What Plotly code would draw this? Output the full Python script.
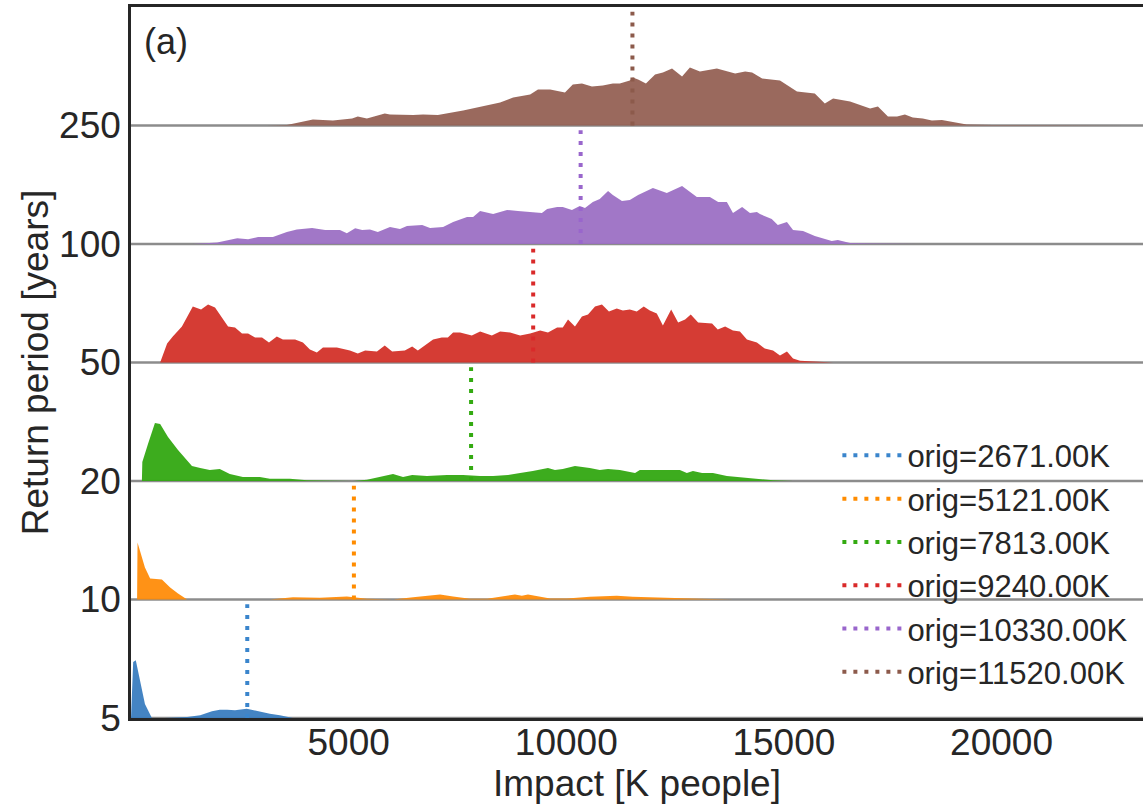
import plotly.graph_objects as go

# ---------------- data ----------------
return_periods = ["5", "10", "20", "50", "100", "250"]
orig_values = [2671, 5121, 7813, 9240, 10330, 11520]
x_ticks = [5000, 10000, 15000, 20000]
x_tick_labels = ["5000", "10000", "15000", "20000"]
colors = ["#3a7dc0", "#ff8c0a", "#33a812", "#d33129", "#9c70c4", "#956154"]
line_colors = ["#3a85cc", "#ff8c00", "#33aa11", "#d92a2a", "#9966cc", "#8c5a4b"]

# impact values [K people] and relative density for each return period
rp5_x = [0, 50, 110, 210, 320, 480, 780, 1290, 1590, 1860, 2040, 2210, 2390, 2660, 2890, 3190, 3420, 3720]
rp5_d = [0, 56, 57.7, 37.7, 14, 0, 0, 1, 2.7, 6.7, 8.3, 8.3, 7.7, 9.3, 7, 4.3, 2.7, 0]

rp10_x = [140, 150, 320, 440, 710, 900, 1080, 1290, 3190, 3720, 4340, 4960, 5420, 6020, 6480, 7100,
          7400, 7790, 8180, 8550, 8820, 8980, 9120, 9630, 10020, 10540, 11160, 11530, 12150, 12680,
          13070, 13830]
rp10_d = [0, 57, 32, 21, 20, 12, 6, 0, 0, 2.3, 1.7, 3, 0.7, 0, 2.3, 5,
          3, 0.7, 0.7, 3, 5, 3.7, 5, 1, 1, 2.7, 3.7, 2.7, 1.7, 1,
          0.7, 0]

rp20_x = [250, 260, 390, 550, 670, 850, 1080, 1400, 1590, 1810, 2040, 2270, 2570, 2960, 3190, 3650,
          4040, 5100, 5420, 5720, 6020, 6250, 6460, 6800, 7260, 7630, 8020, 8320, 8660, 8940, 9100,
          9230, 9580, 9740, 9920, 10200, 10540, 10770, 10960, 11230, 11580, 11690, 11990, 12610,
          12770, 12910, 13120, 13370, 13690, 14150, 14450, 14750, 15210]
rp20_d = [0, 19, 37, 58, 57, 44, 31, 15, 13, 11, 12, 7, 4, 4, 2.3, 2.3,
          0.7, 0, 1.3, 4, 7, 4, 6, 5, 6, 6, 5, 5, 6, 8, 9,
          10, 13, 11, 12, 15, 13, 11, 12, 11, 8, 11, 11, 11,
          8, 10, 8, 8, 5, 3, 1.7, 0.7, 0]

rp50_x = [670, 830, 960, 1170, 1420, 1610, 1770, 1930, 2230, 2390, 2550, 2690, 2850, 3010, 3170,
          3350, 3490, 3770, 3950, 4110, 4270, 4410, 4730, 5030, 5210, 5380, 5650, 5830, 6000, 6290,
          6460, 6590, 6940, 7140, 7280, 7400, 7560, 7830, 8020, 8290, 8480, 8710, 8940, 9170, 9400,
          9580, 9790, 9920, 10040, 10200, 10360, 10500, 10660, 10820, 10980, 11160, 11300, 11460,
          11620, 11780, 11920, 12080, 12220, 12410, 12570, 12730, 12860, 13030, 13350, 13480, 13650,
          13830, 13990, 14150, 14380, 14560, 14750, 14910, 15070, 15210, 15370, 15830, 16130]
rp50_d = [0, 19, 26, 36, 56, 53, 58, 55, 36, 35, 29, 29, 25, 25, 20,
          26, 23, 23, 20, 13, 10, 15, 15, 12, 9, 12, 11, 17, 11, 12,
          16, 12, 23, 25, 25, 30, 30, 27, 31, 27, 31, 30, 27, 29, 32,
          30, 35, 35, 43, 36, 46, 48, 56, 58, 51, 54, 52, 53,
          51, 56, 52, 49, 37, 53, 40, 43, 48, 40, 39, 33, 36,
          32, 31, 23, 20, 14, 12, 7, 11, 4, 1.7, 1, 0]

rp100_x = [1420, 1980, 2440, 2690, 2920, 3260, 3580, 3810, 4160, 4460, 4800, 4960, 5150, 5310, 5490,
           5670, 5950, 6180, 6340, 6690, 6870, 7170, 7400, 7720, 7860, 8020, 8320, 8640, 8890, 9100,
           9440, 9560, 9790, 9920, 10130, 10310, 10430, 10610, 10770, 10960, 11070, 11280, 11460,
           11650, 11850, 11990, 12310, 12660, 13000, 13300, 13490, 13690, 13830, 14040, 14220, 14380,
           14450, 14630, 14720, 14860, 15070, 15210, 15440, 15710, 16100, 16240, 16520, 16980, 18060]
rp100_d = [0, 1.5, 5.7, 4.7, 7, 7, 12, 14.5, 16, 14, 14, 10.7, 15.7, 14, 14.5,
           12, 17, 15, 18, 19, 16, 17, 22, 27, 27, 33, 30, 34, 33, 32,
           31, 35, 37, 37, 34, 38, 36, 42, 45, 53, 49, 43, 44,
           49, 53, 56, 51, 58, 47, 47, 42, 42, 31, 37, 31, 32,
           30, 27, 25, 19, 22, 14, 13, 8, 3, 4, 1, 0.5, 0]

rp250_x = [3120, 3580, 4180, 4640, 5080, 5210, 5420, 5830, 5950, 6180, 6480, 6710, 7050, 7630, 8020,
           8480, 8780, 9170, 9350, 9630, 9970, 10150, 10360, 10590, 10840, 11070, 11230, 11460, 11530,
           11650, 11830, 12040, 12220, 12430, 12660, 12840, 13070, 13460, 13880, 14110, 14270, 14500,
           14910, 15300, 15710, 15940, 16130, 16520, 16980, 17160, 17390, 17600, 17780, 17960, 18190,
           18400, 18630, 18880, 19200, 19800, 20580, 21340, 22490, 22880]
rp250_d = [0, 0.5, 6, 5, 7, 9, 7, 12, 11, 10.6, 10.6, 11, 10.6, 15, 19,
           23, 28, 31, 36, 36, 33, 41, 42, 39, 40, 42, 42, 45, 48,
           46, 42, 51, 53, 57, 49, 58, 54, 57, 52, 54, 53, 47,
           45, 34, 32, 22, 27, 24, 17, 19, 9, 9, 11, 8, 7,
           5, 5.5, 3.5, 1, 0.5, 0.3, 0.3, 0.2, 0]

xs_all = [rp5_x, rp10_x, rp20_x, rp50_x, rp100_x, rp250_x]
ds_all = [rp5_d, rp10_d, rp20_d, rp50_d, rp100_d, rp250_d]

DENS_SCALE = 1 / 118.6   # density units -> ridge row height
FONT = "Liberation Sans, Arial, Helvetica, sans-serif"
TXT = "#262626"

fig = go.Figure()

# ridges
for i, (xs, ds) in enumerate(zip(xs_all, ds_all)):
    ys = [i + d * DENS_SCALE for d in ds]
    fig.add_trace(go.Scatter(
        x=list(xs) + [xs[-1], xs[0]],
        y=ys + [i, i],
        mode="lines", fill="toself", fillcolor=colors[i],
        line=dict(width=0), opacity=0.95,
        showlegend=False, hoverinfo="skip"))

# baselines
for i in range(len(return_periods)):
    fig.add_shape(type="line", xref="paper", x0=0, x1=1, yref="y", y0=i, y1=i,
                  line=dict(color="#8c8c8c", width=2.4), layer="below")

# orig markers
for i, v in enumerate(orig_values):
    fig.add_trace(go.Scatter(
        x=[v, v], y=[i, i + 0.96], mode="lines",
        line=dict(color=line_colors[i], width=4, dash="4px,7px"),
        name=f"orig={v:.2f}K"))

fig.add_annotation(text="(a)", xref="paper", yref="paper", x=0.011, y=0.952,
                   xanchor="left", yanchor="middle", showarrow=False,
                   font=dict(size=36, color=TXT, family=FONT))

fig.update_layout(
    width=1143, height=807,
    margin=dict(l=131, r=0, t=7, b=89),
    plot_bgcolor="white", paper_bgcolor="white",
    font=dict(family=FONT, color=TXT),
    legend=dict(x=0.698, y=0.217, xanchor="left", yanchor="middle", itemwidth=60,
                bgcolor="rgba(0,0,0,0)", font=dict(size=31, color=TXT, family=FONT)),
    xaxis=dict(range=[0, 23250], tickvals=x_ticks, ticktext=x_tick_labels,
               showgrid=False, zeroline=False, showline=True, mirror=True,
               linecolor=TXT, linewidth=2.5, ticks="", ticklabelstandoff=-10,
               tickfont=dict(size=37, color=TXT),
               title=dict(text="Impact [K people]", font=dict(size=37, color=TXT), standoff=0)),
    yaxis=dict(range=[0, 6], tickvals=list(range(6)), ticktext=return_periods,
               showgrid=False, zeroline=False, showline=True, mirror=False,
               linecolor=TXT, linewidth=2.5, ticks="",
               tickfont=dict(size=37, color=TXT),
               title=dict(text="Return period [years]", font=dict(size=37, color=TXT), standoff=0)),
)

fig.write_html("out.html")
